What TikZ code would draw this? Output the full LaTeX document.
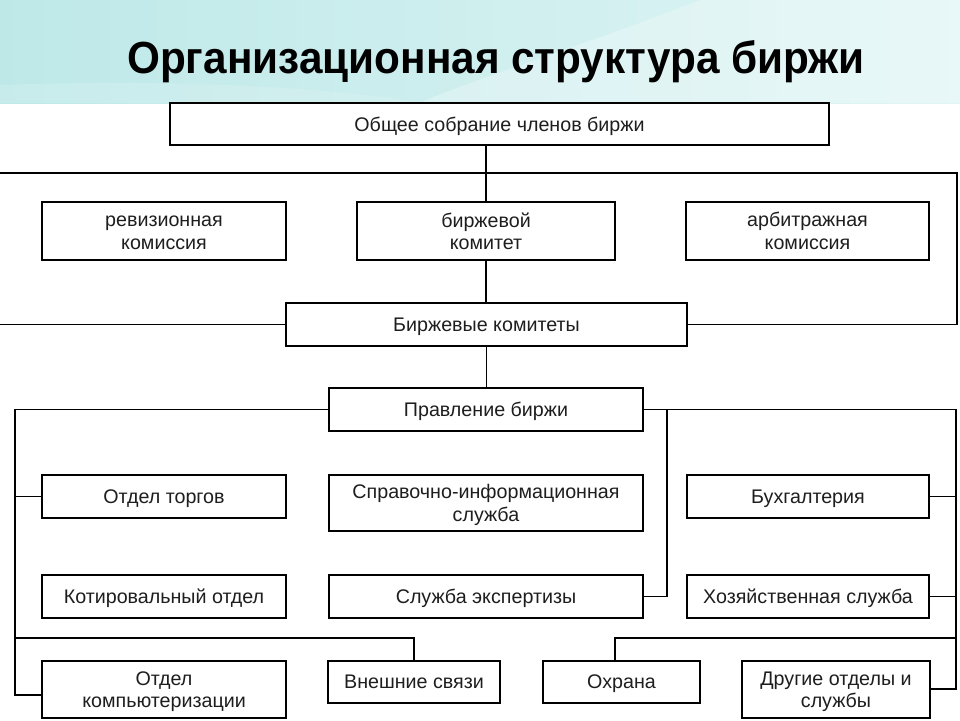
\documentclass[tikz,border=0pt]{standalone}
\usepackage{fontspec}
\setmainfont{Liberation Sans}
\usetikzlibrary{calc}
\definecolor{bandL}{RGB}{190,232,232}
\definecolor{bandR}{RGB}{224,245,245}
\definecolor{txt}{RGB}{30,30,30}
\newcommand\tallph{\vphantom{Бб}}
\begin{document}
\begin{tikzpicture}[x=0.25mm,y=-0.25mm,
  box/.style={draw=black,line width=1.4pt,fill=white,rectangle,inner sep=0pt,align=center,
    text depth=0pt,font=\fontsize{14}{16}\selectfont,text=txt},
  sz/.style 2 args={minimum width=#1*0.25mm,minimum height=#2*0.25mm},
  conn/.style={line width=1.4pt,black},
  thin/.style={line width=0.9pt}]
\useasboundingbox (0,0) rectangle (960,720);
% background band
\shade[left color=bandL,right color=bandR] (0,0) rectangle (960,103);
\fill[white,opacity=0.28] (700,0) .. controls (600,40) and (470,80) .. (420,103) -- (960,103) -- (960,0) -- cycle;
\fill[white,opacity=0.15] (0,85) .. controls (200,78) and (350,90) .. (420,103) -- (0,103) -- cycle;
\node[anchor=base,font=\fontsize{32}{36}\bfseries\selectfont] (title) at (496,73) {\scalebox{0.94}[1]{Организационная структура биржи}};
% free ends of connectors
\coordinate (lt) at (0,173);
\coordinate (rt) at (957,173);
\coordinate (lb) at (0,324.5);
\coordinate (lv) at (15,695);
\coordinate (m1) at (15,638);
\coordinate (rv) at (956,689);
\coordinate (m2) at (956,638);
\coordinate (ex) at (667,410);
% boxes
\node[box,thin,sz={659}{42}] (top) at (499.5,124) {Общее собрание членов биржи};
\node[box,sz={244}{58}] (rev) at (164,231) {\tallph ревизионная\\комиссия};
\node[box,sz={258}{58}] (bk) at (486,231) {биржевой\\комитет};
\node[box,sz={243}{58}] (arb) at (807.5,231) {арбитражная\\комиссия};
\node[box,thin,sz={401}{43}] (bks) at (486.5,324.5) {Биржевые комитеты};
\node[box,thin,sz={314}{43}] (prav) at (486,409.5) {Правление биржи};
\node[box,sz={244}{43}] (ot) at (164,496.5) {Отдел торгов};
\node[box,sz={314}{56}] (spr) at (486,503) {Справочно-информационная\\служба};
\node[box,sz={242}{43}] (buh) at (808,496.5) {Бухгалтерия};
\node[box,sz={244}{43}] (kot) at (164,596.5) {Котировальный отдел};
\node[box,sz={314}{43}] (exp) at (486,596.5) {Служба экспертизы};
\node[box,sz={242}{43}] (hoz) at (808,596.5) {Хозяйственная служба};
\node[box,sz={244}{57}] (comp) at (164,689.5) {Отдел\\компьютеризации};
\node[box,sz={172}{42}] (vnesh) at (414,682) {Внешние связи};
\node[box,sz={157}{42}] (ohr) at (621.5,682) {Охрана};
\node[box,sz={188}{57}] (dr) at (836,689.5) {Другие отделы и\\службы};
% connectors
\draw[conn,thin] (bk.north) -- (bk.north |- top.south);
\draw[conn,thin] (bk.south) -- (bk.south |- bks.north);
\draw[conn,thin] (bks.south) -- (bks.south |- prav.north);
\draw[conn] (lt) -- (rt) |- (bks.east);
\draw[conn] (lb) -- (bks.west);
\draw[conn] (prav.west) -| (lv) -- (lv -| comp.west);
\draw[conn] (ot.west) -- (ot.west -| lv);
\draw[conn] (m1) -| (vnesh.north);
\draw[conn] (prav.east) -| (rv) -- (rv -| dr.east);
\draw[conn] (ex) |- (exp.east);
\draw[conn] (buh.east) -- (buh.east -| rv);
\draw[conn] (hoz.east) -- (hoz.east -| rv);
\draw[conn] (m2) -| ([xshift=-1.625mm]ohr.north);
\end{tikzpicture}
\end{document}
